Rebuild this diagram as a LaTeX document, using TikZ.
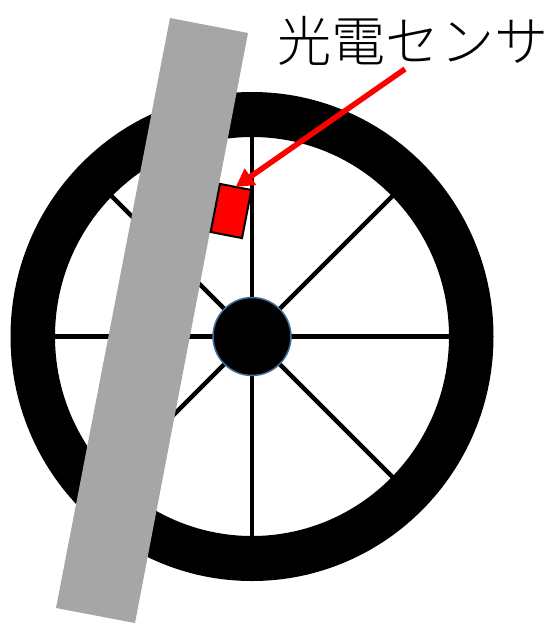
\documentclass[tikz,border=0pt]{standalone}
\usepackage{fontspec}
\newfontfamily\cjk{Noto Sans CJK JP}[UprightFont=* Light]
\usetikzlibrary{arrows.meta}
\definecolor{bargray}{HTML}{A6A6A6}
\definecolor{hubblue}{HTML}{41719C}
\begin{document}
\begin{tikzpicture}[x=0.02cm,y=0.02cm]
	\tikzstyle{every node}+=[inner sep=0pt,outer sep=0pt]
	\tikzstyle{spoke}=[black,line width=0.09cm]
	\tikzstyle{sensorbox}=[draw=black,fill=red,line width=0.04cm,minimum width=0.64cm,minimum height=0.98cm,rotate=-11]
	\tikzstyle{hubdisc}=[circle,draw=hubblue,fill=black,line width=0.03cm,minimum size=1.56cm]
	\useasboundingbox (0,0) rectangle (552,-623);
	\coordinate (centre) at (252,-336.5);
	% tyre
	\fill [black,even odd rule] (centre) ellipse [x radius=241.5,y radius=244.5] (centre) ellipse [x radius=197,y radius=199.5];
	% spokes
	\foreach \a in {0,45,...,315}
		\draw [spoke] (centre) -- ++(\a:202);
	\node [hubdisc] (hub) at (centre) {};
	% fork
	\fill [bargray] (170,-18) -- (248,-33) -- (135,-623) -- (56,-608) -- cycle;
	\node [sensorbox] (sensor) at (231,-211) {};
	\node (label) at (413,-41) {\cjk\fontsize{30.8pt}{30.8pt}\selectfont 光電センサ};
	\coordinate (tail) at (405,-69);
	\draw [red,line width=0.11cm,-{Triangle[length=0.36cm,width=0.38cm]}] (tail) -- (sensor.north);
\end{tikzpicture}
\end{document}
